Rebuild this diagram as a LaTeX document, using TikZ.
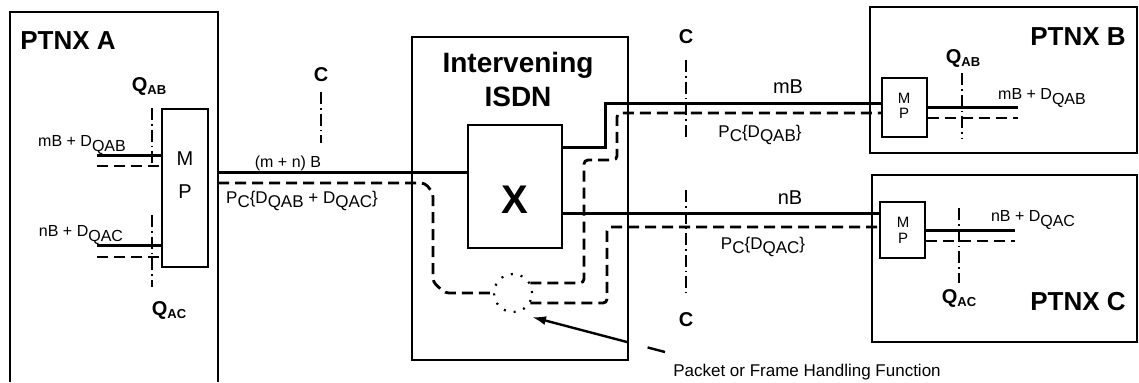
\documentclass[tikz,border=0pt]{standalone}
\usepackage{fontspec}
\setmainfont{Liberation Sans}
\usetikzlibrary{calc}
\usetikzlibrary{fit}
\usetikzlibrary{arrows.meta}

% 下标文字 (与原图一致, 字号不变, 只下移)
\newcommand{\lowtxt}[1]{\raisebox{-0.5ex}{#1}}
\newcommand{\Qlab}[1]{\textbf{Q\raisebox{-0.35ex}{\fontsize{6.5}{7}\selectfont #1}}}

\begin{document}
\begin{tikzpicture}[x=0.5pt, y=-0.5pt]
        % ================= 样式定义 =================
        \tikzset{
            % 方框
            box/.style={draw=black, line width=1pt, inner sep=0pt},
            % 实线 (B 信道)
            sig/.style={line width=1.5pt, black},
            % 虚线 (分组数据)
            pkt/.style={line width=1.4pt, black, dash pattern=on 5.5pt off 3pt, rounded corners=2pt},
            % 点划线 (参考点)
            refl/.style={line width=0.7pt, black, dash pattern=on 6pt off 2pt on 0.8pt off 2pt},
            big/.style={font=\fontsize{13}{15}\selectfont\bfseries, inner sep=0pt},
            lbl/.style={font=\fontsize{8}{9}\selectfont, inner sep=0pt},
            mid/.style={font=\fontsize{8.5}{10}\selectfont, inner sep=0pt},
            qlbl/.style={font=\fontsize{10}{12}\selectfont, inner sep=0pt}
        }
        \useasboundingbox (0,0) rectangle (1139,382);

        % ================= 方框 =================
        % PTNX A (下边在图外)
        \draw[line width=1pt] (10,382) |- (218,12) -- (218,382);
        \node[big] (nameA) at (68,41) {PTNX A};
        \node[box, fit={(162,109) (208,267)}] (mpA) {};
        \node[font=\fontsize{10}{12}\selectfont, inner sep=0pt] (mpAm) at (185,159) {M};
        \node[font=\fontsize{10}{12}\selectfont, inner sep=0pt] (mpAp) at (185,192) {P};

        % Intervening ISDN
        \node[box, fit={(412,37) (628,360)}] (isdn) {};
        \node[big, font=\fontsize{14}{16}\selectfont\bfseries] (isdn1) at (518,65) {Intervening};
        \node[big, font=\fontsize{14}{16}\selectfont\bfseries] (isdn2) at (518,97) {ISDN};
        \node[box, fit={(468,125) (562,248)}] (xbox) {};
        \node[font=\fontsize{20}{22}\selectfont\bfseries, inner sep=0pt] (xlbl) at (515,200) {X};
        \node[circle, draw=black, line width=1.1pt, dash pattern=on 1pt off 4pt, minimum size=19pt, inner sep=0pt] (fhf) at (513,293) {};

        % PTNX B
        \node[box, fit={(870,7) (1137,153)}] (ptnxB) {};
        \node[big] (nameB) at (1078,37) {PTNX B};
        \node[box, fill=white, fit={(882,78) (927,137)}] (mpB) {};
        \node[font=\fontsize{7.5}{9}\selectfont, inner sep=0pt] (mpBm) at (904,98) {M};
        \node[font=\fontsize{7.5}{9}\selectfont, inner sep=0pt] (mpBp) at (904,113) {P};

        % PTNX C
        \node[box, fit={(872,175) (1137,342)}] (ptnxC) {};
        \node[big] (nameC) at (1078,302) {PTNX C};
        \node[box, fill=white, fit={(880,202) (925,258)}] (mpC) {};
        \node[font=\fontsize{7.5}{9}\selectfont, inner sep=0pt] (mpCm) at (903,222) {M};
        \node[font=\fontsize{7.5}{9}\selectfont, inner sep=0pt] (mpCp) at (903,238) {P};

        % ================= 连线 =================
        % 1. PTNX A 内部
        \coordinate (inAB) at (97,155);
        \coordinate (inABd) at (97,166);
        \coordinate (inAC) at (97,245);
        \coordinate (inACd) at (97,257);
        \draw[sig] (inAB) -- (inAB -| mpA.west);
        \draw[pkt] (inABd) -- (inABd -| mpA.west);
        \draw[sig] (inAC) -- (inAC -| mpA.west);
        \draw[pkt] (inACd) -- (inACd -| mpA.west);

        % 2. A 到 ISDN
        \coordinate (aOut) at (218,172);
        \coordinate (aOutd) at (218,183);
        \draw[sig] (aOut) -- (aOut -| xbox.west);
        \draw[pkt] (aOutd) -- (425,183) -- (433,193) -- (433,282) -- (445,293) -- (fhf.west);

        % 3. ISDN 到 B 和 C
        \coordinate (xB) at (562,147);
        \coordinate (bIn) at (605,103);
        \coordinate (bInd) at (617,113);
        \coordinate (xC) at (562,213);
        \coordinate (cInd) at (607,227);
        \draw[sig] (xB) -| (bIn) -- (bIn -| mpB.west);
        \draw[pkt] (fhf.30) -| (584,160) -| (bInd) -- (bInd -| mpB.west);
        \draw[sig] (xC) -- (xC -| mpC.west);
        \draw[pkt] (fhf.-30) -| (cInd) -- (cInd -| mpC.west);

        % 4. B 和 C 的出线
        \coordinate (outB) at (1018,107);
        \coordinate (outBd) at (1018,118);
        \coordinate (outC) at (1015,230);
        \coordinate (outCd) at (1015,241);
        \draw[sig] (outB -| mpB.east) -- (outB);
        \draw[pkt] (outBd -| mpB.east) -- (outBd);
        \draw[sig] (outC -| mpC.east) -- (outC);
        \draw[pkt] (outCd -| mpC.east) -- (outCd);

        % 5. 参考点 (点划线)
        \draw[refl] (152,108) -- (152,167);
        \draw[refl] (152,215) -- (152,287);
        \draw[refl] (321,92) -- (321,143);
        \draw[refl] (686,60) -- (686,140);
        \draw[refl] (686,190) -- (686,293);
        \draw[refl] (962,73) -- (962,138);
        \draw[refl] (959,208) -- (959,283);

        % 6. 指向分组处理功能的箭头
        \coordinate (arTail) at (665,352);
        \coordinate (arTip) at (532,317);
        \draw[line width=1.2pt, dash pattern=on 9pt off 10pt on 200pt, -{Latex[length=7pt, width=4.5pt]}] (arTail) -- (arTip);

        % ================= 标注 =================
        \node[qlbl] (qAB) at (149,86) {\Qlab{AB}};
        \node[qlbl] (qAC) at (169,310) {\Qlab{AC}};
        \node[qlbl] (qBB) at (963,58) {\Qlab{AB}};
        \node[qlbl] (qCC) at (959,298) {\Qlab{AC}};
        \node[qlbl, font=\fontsize{10}{12}\selectfont\bfseries] (c1) at (321,75) {C};
        \node[qlbl, font=\fontsize{10}{12}\selectfont\bfseries] (c2) at (686,37) {C};
        \node[qlbl, font=\fontsize{10}{12}\selectfont\bfseries] (c3) at (686,320) {C};

        \node[lbl] (tAB) at (82,145) {mB + D\lowtxt{QAB}};
        \node[lbl] (tAC) at (81,235) {nB + D\lowtxt{QAC}};
        \node[lbl] (tMN) at (288,163) {(m + n) B};
        \node[mid] (tPC) at (302,201) {P\lowtxt{C}\{D\lowtxt{QAB} + D\lowtxt{QAC}\}};
        \node[font=\fontsize{10}{12}\selectfont, inner sep=0pt] (tmB) at (788,87) {mB};
        \node[mid] (tPB) at (760,135) {P\lowtxt{C}\{D\lowtxt{QAB}\}};
        \node[font=\fontsize{10}{12}\selectfont, inner sep=0pt] (tnB) at (790,198) {nB};
        \node[mid] (tPCC) at (763,247) {P\lowtxt{C}\{D\lowtxt{QAC}\}};
        \node[lbl] (tBout) at (1042,98) {mB + D\lowtxt{QAB}};
        \node[lbl] (tCout) at (1033,220) {nB + D\lowtxt{QAC}};
        \node[font=\fontsize{8.5}{10}\selectfont, inner sep=0pt] (tFHF) at (807,372) {Packet or Frame Handling Function};

    \end{tikzpicture}
\end{document}
